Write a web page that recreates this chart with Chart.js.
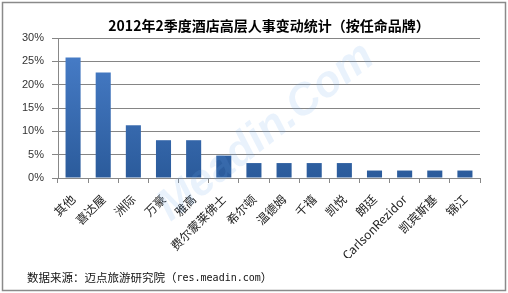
<!DOCTYPE html>
<html>
<head>
<meta charset="utf-8">
<script src="https://cdn.jsdelivr.net/npm/chart.js@4/dist/chart.umd.min.js"></script>
<style>
html,body{margin:0;padding:0;background:#fff;}
#wrap{width:508px;height:293px;position:relative;}
</style>
</head>
<body>
<div id="wrap"><canvas id="c" width="508" height="293"></canvas></div>
<script>
const titleText = '2012年2季度酒店高层人事变动统计（按任命品牌）';
const categories = ['其他','喜达屋','洲际','万豪','雅高','费尔蒙莱佛士','希尔顿','温德姆','千禧','凯悦','朗廷','CarlsonRezidor','凯宾斯基','锦江'];
const shares = [25.8, 22.6, 11.3, 8.1, 8.1, 4.8, 3.2, 3.2, 3.2, 3.2, 1.6, 1.6, 1.6, 1.6];
const yTicks = [0, 5, 10, 15, 20, 25, 30];
const sourcePrefix = '数据来源：迈点旅游研究院（';
const sourceUrl = 'res.meadin.com';
const sourceSuffix = '）';
const watermark = 'Meadin.Com';

const extras = {
  id: 'extras',
  afterDraw(chart) {
    const ctx = chart.ctx;
    ctx.save();
    // watermark
    ctx.translate(266, 132);
    ctx.rotate(-38 * Math.PI / 180);
    ctx.font = 'bold italic 44px "Liberation Sans", Arial, sans-serif';
    ctx.fillStyle = 'rgba(110,170,235,0.15)';
    ctx.textAlign = 'center';
    ctx.textBaseline = 'middle';
    ctx.fillText(watermark, 0, 0);
    ctx.restore();

    ctx.save();
    // title
    ctx.fillStyle = '#000';
    ctx.textAlign = 'center';
    ctx.textBaseline = 'middle';
    ctx.font = 'bold 14px "Noto Sans CJK SC", sans-serif';
    ctx.fillText(titleText, (chart.chartArea.left + chart.chartArea.right) / 2, 25.5);
    // footer
    ctx.fillStyle = '#111';
    ctx.textAlign = 'left';
    let x = 27;
    ctx.font = '11.5px "Noto Sans CJK SC", sans-serif';
    ctx.fillText(sourcePrefix, x, 278);
    x += ctx.measureText(sourcePrefix).width;
    ctx.font = '10px "DejaVu Sans Mono", monospace';
    ctx.fillText(sourceUrl, x, 278);
    x += ctx.measureText(sourceUrl).width;
    ctx.font = '11.5px "Noto Sans CJK SC", sans-serif';
    ctx.fillText(sourceSuffix, x, 278);
    // frame
    ctx.strokeStyle = '#8a8a8a';
    ctx.lineWidth = 1.5;
    ctx.strokeRect(2.5, 2.5, 503, 288);
    ctx.restore();
  }
};

new Chart(document.getElementById('c'), {
  type: 'bar',
  data: {
    labels: categories,
    datasets: [{
      data: shares,
      backgroundColor(ctx) {
        const area = ctx.chart.chartArea;
        if (!area) return '#3a6db3';
        const g = ctx.chart.ctx.createLinearGradient(0, area.top, 0, area.bottom);
        g.addColorStop(0, '#4a80cc');
        g.addColorStop(1, '#2b5b9b');
        return g;
      },
      borderWidth: 0,
      barPercentage: 0.5,
      categoryPercentage: 1.0
    }]
  },
  options: {
    responsive: false,
    animation: false,
    layout: { padding: { left: 3, right: 28, top: 38, bottom: 35 } },
    plugins: {
      legend: { display: false },
      tooltip: { enabled: false },
      title: { display: false }
    },
    scales: {
      x: {
        afterFit(s) { s.height = 80; },
        grid: { display: true, drawOnChartArea: false, drawTicks: true, tickLength: 5, color: '#888', offset: true },
        border: { display: true, color: '#888' },
        ticks: {
          autoSkip: false, minRotation: 45, maxRotation: 45, padding: 9,
          color: '#222',
          font: { family: '"Noto Sans CJK SC", "Open Sans", sans-serif', size: 12 }
        }
      },
      y: {
        min: 0, max: 30,
        afterFit(s) { s.width = 55; },
        afterBuildTicks(s) { s.ticks = yTicks.map(v => ({ value: v })); },
        grid: { color: '#858585', tickLength: 6, drawTicks: true },
        border: { display: true, color: '#888' },
        ticks: {
          padding: 8,
          color: '#333',
          font: { family: '"Liberation Sans", Arial, sans-serif', size: 11 },
          callback: v => v + '%'
        }
      }
    }
  },
  plugins: [extras]
});
</script>
</body>
</html>
